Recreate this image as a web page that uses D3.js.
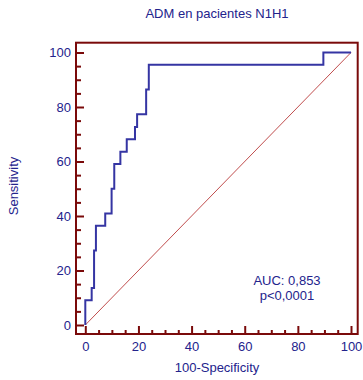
<!DOCTYPE html>
<html>
<head>
<meta charset="utf-8">
<script src="https://cdn.jsdelivr.net/npm/d3@7"></script>
<style>
  html, body { margin: 0; padding: 0; background: #fff; }
  svg { display: block; font-family: "Liberation Sans", Arial, sans-serif; }
</style>
</head>
<body>
<svg id="chart" width="363" height="380"></svg>
<script>
// ---- Data ----
const title = "ADM en pacientes N1H1";
const xLabel = "100-Specificity";
const yLabel = "Sensitivity";
const majorTicks = [0, 20, 40, 60, 80, 100];
const minorTicks = [5, 10, 15, 25, 30, 35, 45, 50, 55, 65, 70, 75, 85, 90, 95];
// ROC curve points: 100-Specificity (%) and Sensitivity (%)
const rocFpr = [0, 0, 2.4, 2.4, 3.3, 3.3, 4.0, 4.0, 7.5, 7.5, 9.9, 9.9, 10.9, 10.9, 13.2, 13.2, 15.6, 15.6, 18.7, 18.7, 19.5, 19.5, 22.9, 22.9, 23.9, 23.9, 89.6, 89.6, 100];
const rocTpr = [0, 9.1, 9.1, 13.6, 13.6, 27.3, 27.3, 36.4, 36.4, 40.9, 40.9, 50.0, 50.0, 59.1, 59.1, 63.6, 63.6, 68.2, 68.2, 72.7, 72.7, 77.3, 77.3, 86.4, 86.4, 95.5, 95.5, 100, 100];
const diagonal = [0, 100];
const annotations = ["AUC: 0,853", "p<0,0001"];

// ---- Layout ----
const frame = { left: 76, top: 42.7, right: 357.7, bottom: 334 };
const textColor = "#23238c";
const frameColor = "#7a0a0a";
const rocColor = "#3535a3";

const svg = d3.select("#chart");

const x = d3.scaleLinear().domain([0, 100]).range([85.3, 351]);
const y = d3.scaleLinear().domain([0, 100]).range([325, 52.5]);

// Diagonal reference line
svg.append("line")
  .attr("x1", x(diagonal[0])).attr("y1", y(diagonal[0]))
  .attr("x2", x(diagonal[1])).attr("y2", y(diagonal[1]))
  .attr("stroke", "#b02020").attr("stroke-width", 0.8);

// ROC curve
const pts = rocFpr.map((d, i) => [d, rocTpr[i]]);
svg.append("path")
  .datum(pts)
  .attr("fill", "none")
  .attr("stroke", rocColor)
  .attr("stroke-width", 2)
  .attr("stroke-linejoin", "miter")
  .attr("d", d3.line().x(d => x(d[0])).y(d => y(d[1])));

// Frame
svg.append("rect")
  .attr("x", frame.left).attr("y", frame.top)
  .attr("width", frame.right - frame.left).attr("height", frame.bottom - frame.top)
  .attr("fill", "none").attr("stroke", frameColor).attr("stroke-width", 2);

function styleAxis(g) {
  g.select(".domain").remove();
  g.selectAll(".tick line").attr("stroke", frameColor).attr("stroke-width", 2);
  g.selectAll(".tick text").attr("fill", textColor)
    .style("font-size", "13px").style("font-family", '"Liberation Sans", Arial, sans-serif');
}

// Left axis: major + minor
svg.append("g").attr("transform", `translate(${frame.left},0)`)
  .call(d3.axisLeft(y).tickValues(majorTicks).tickSize(-8).tickPadding(5).tickFormat(d3.format("d")))
  .call(styleAxis);
svg.append("g").attr("transform", `translate(${frame.left},0)`)
  .call(d3.axisLeft(y).tickValues(minorTicks).tickSize(-5).tickFormat(""))
  .call(styleAxis);

// Bottom axis: major + minor
svg.append("g").attr("transform", `translate(0,${frame.bottom})`)
  .call(d3.axisBottom(x).tickValues(majorTicks).tickSize(-8).tickPadding(8).tickFormat(d3.format("d")))
  .call(styleAxis);
svg.append("g").attr("transform", `translate(0,${frame.bottom})`)
  .call(d3.axisBottom(x).tickValues(minorTicks).tickSize(-4).tickFormat(""))
  .call(styleAxis);

// Title
svg.append("text")
  .attr("x", 217).attr("y", 18)
  .attr("text-anchor", "middle")
  .attr("fill", textColor).style("font-size", "13px")
  .text(title);

// X axis title
svg.append("text")
  .attr("x", 217).attr("y", 372)
  .attr("text-anchor", "middle")
  .attr("fill", textColor).style("font-size", "13px")
  .text(xLabel);

// Y axis title
svg.append("text")
  .attr("transform", `translate(18,186) rotate(-90)`)
  .attr("text-anchor", "middle")
  .attr("fill", textColor).style("font-size", "13px")
  .text(yLabel);

// Annotations
svg.selectAll("text.ann").data(annotations).enter().append("text")
  .attr("class", "ann")
  .attr("x", 287).attr("y", (d, i) => 285 + i * 15)
  .attr("text-anchor", "middle")
  .attr("fill", textColor).style("font-size", "13px")
  .text(d => d);
</script>
</body>
</html>
